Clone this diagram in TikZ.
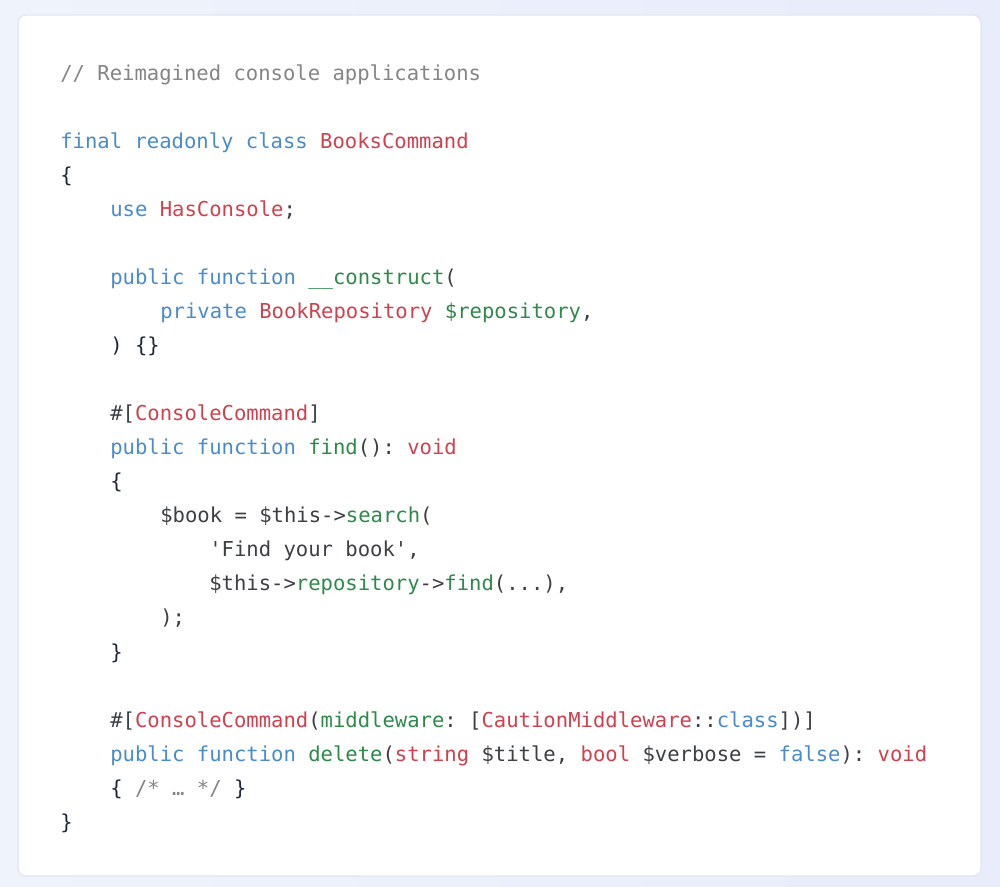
\documentclass[tikz,border=0pt]{standalone}
\usepackage{fontspec}
\setmonofont{DejaVu Sans Mono}
\usepackage{tikz}
\usetikzlibrary{positioning}

\definecolor{pagebg}{HTML}{EFF3FB}
\definecolor{pagebgr}{HTML}{E8ECFB}
\definecolor{cardline}{HTML}{E1E6EE}
\definecolor{plaintxt}{HTML}{3C3F44}
\definecolor{bracetxt}{HTML}{1F2736}
\definecolor{kwblue}{HTML}{4A8CCB}
\definecolor{clsred}{HTML}{D1404E}
\definecolor{fungreen}{HTML}{2E8A4A}
\definecolor{cmtgray}{HTML}{858585}

\newcommand{\phpkw}[1]{\textcolor{kwblue}{#1}}
\newcommand{\phpcls}[1]{\textcolor{clsred}{#1}}
\newcommand{\phpfn}[1]{\textcolor{fungreen}{#1}}
\newcommand{\phpcm}[1]{\textcolor{cmtgray}{#1}}
\newcommand{\phpbr}[1]{\textcolor{bracetxt}{#1}}

\tikzset{codeline/.style={anchor=base west,inner sep=0pt,text=plaintxt,
  font=\ttfamily\fontsize{15.42}{25.5}\selectfont}}

\begin{document}
\begin{tikzpicture}[x=0.75pt,y=-0.75pt]

  \useasboundingbox (0,0) rectangle (1000,887);
  \shade [left color=pagebg,right color=pagebgr] (0,0) rectangle (1000,887);
  \draw [draw=cardline,fill=white,line width=0.9pt,rounded corners=6pt] (18,15) rectangle (981,876);



  \node (l0) [codeline] at (60,81) {\phpcm{// Reimagined console applications}};

  \node (l2) [codeline] at (60,149) {\phpkw{final readonly class} \phpcls{BooksCommand}};
  \node (l3) [codeline] at (60,183) {\phpbr{\{}};
  \node (l4) [codeline] at (110,217) {\phpkw{use} \phpcls{HasConsole};};

  \node (l6) [codeline] at (110,285) {\phpkw{public function} \phpfn{\_\_construct}(};
  \node (l7) [codeline] at (160,319) {\phpkw{private} \phpcls{BookRepository} \phpfn{\$repository},};
  \node (l8) [codeline] at (110,353) {\phpbr{) \{\}}};

  \node (l10) [codeline] at (110,421) {\#[\phpcls{ConsoleCommand}]};
  \node (l11) [codeline] at (110,455) {\phpkw{public function} \phpfn{find}(): \phpcls{void}};
  \node (l12) [codeline] at (110,489) {\phpbr{\{}};
  \node (l13) [codeline] at (160,523) {\$book = \$this->\phpfn{search}(};
  \node (l14) [codeline] at (209,557) {'Find your book',};
  \node (l15) [codeline] at (209,591) {\$this->\phpfn{repository}->\phpfn{find}(...),};
  \node (l16) [codeline] at (160,625) {);};
  \node (l17) [codeline] at (110,659) {\phpbr{\}}};

  \node (l19) [codeline] at (110,727) {\#[\phpcls{ConsoleCommand}(\phpfn{middleware}: [\phpcls{CautionMiddleware}::\phpkw{class}])]};
  \node (l20) [codeline] at (110,761) {\phpkw{public function} \phpfn{delete}(\phpcls{string} \$title, \phpcls{bool} \$verbose = \phpkw{false}): \phpcls{void}};
  \node (l21) [codeline] at (110,795) {\phpbr{\{} \phpcm{/* … */} \phpbr{\}}};
  \node (l22) [codeline] at (60,829) {\phpbr{\}}};



\end{tikzpicture}
\end{document}
